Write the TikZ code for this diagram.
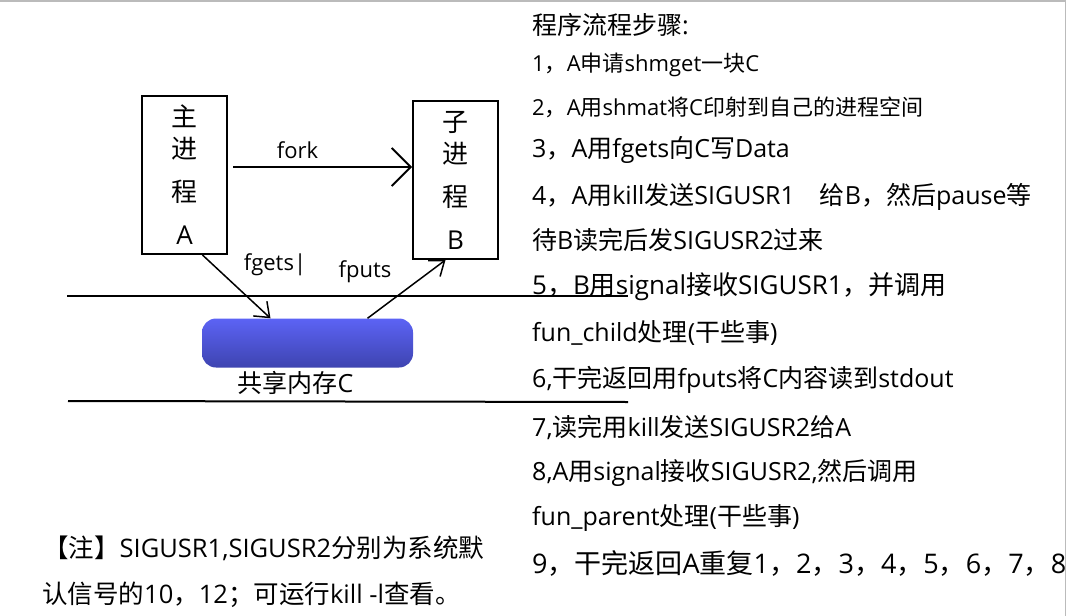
\documentclass[tikz,border=0pt]{standalone}
\usepackage{fontspec}
\setmainfont{Noto Sans CJK SC}
\newfontfamily\fuenteCJK{Noto Sans CJK SC}
\newfontfamily\fuenteLatina{Open Sans}
\usetikzlibrary{arrows.meta, positioning}
\definecolor{azulmemoria}{HTML}{5C63F5}
\definecolor{azuloscuro}{HTML}{3E44B0}
\definecolor{grisborde}{HTML}{BBBBBB}
% letras latinas en Open Sans, el resto en Noto Sans CJK
\newXeTeXintercharclass\claseLatina
\newcount\contLatina
\def\rangoLatino#1#2{\contLatina=#1\relax
  \loop\XeTeXcharclass\contLatina=\claseLatina\relax
  \ifnum\contLatina<#2\relax\advance\contLatina by 1\relax\repeat}
\rangoLatino{`A}{`Z}\rangoLatino{`a}{`z}\rangoLatino{`0}{`9}
\rangoLatino{`(}{`)}\rangoLatino{`,}{`-}\rangoLatino{`|}{`|}
\rangoLatino{`_}{`_}\rangoLatino{`:}{`:}
\contLatina=0
\loop
  \XeTeXinterchartoks\contLatina\claseLatina={\fuenteLatina}%
  \XeTeXinterchartoks\claseLatina\contLatina={\fuenteCJK}%
  \XeTeXinterchartoks 4095 \contLatina={\fuenteCJK}%
  \ifnum\contLatina<\numexpr\claseLatina-1\relax\advance\contLatina by 1\relax\repeat
\XeTeXinterchartoks 4095 \claseLatina={\fuenteLatina}
\tikzset{
  cajaProceso/.style={
    draw=black, line width=2pt, minimum width=85pt,
    align=center, inner sep=0pt, font=\fontsize{26}{43}\selectfont
  },
  cajaMemoria/.style={
    rectangle, rounded corners=14pt, minimum width=211pt, minimum height=49pt,
    top color=azulmemoria, bottom color=azuloscuro, draw=none
  },
  flecha/.style={-{Straight Barb[length=13pt,width=20pt]}, line width=1.5pt},
  flechaGrande/.style={-{Straight Barb[length=19pt,width=38pt]}, line width=1.8pt},
  lineaMemoria/.style={line width=2pt},
  etiquetaFlecha/.style={font=\fontsize{22}{26}\selectfont, inner sep=0pt},
  paso/.style={anchor=west, inner sep=0pt, font=\fontsize{25}{29}\selectfont},
  pasoChico/.style={paso, font=\fontsize{22}{26}\selectfont},
  pasoGrande/.style={paso, font=\fontsize{26}{30}\selectfont},
  nota/.style={paso, font=\fontsize{25.5}{30}\selectfont},
}
\begin{document}
\XeTeXinterchartokenstate=1
\begin{tikzpicture}[x=1pt, y=-1pt]
    \useasboundingbox (0,0) rectangle (1066,616);
    \draw[grisborde, line width=1.5pt] (0,0.75) -- (1065.25,0.75) -- (1065.25,616);
    \node[cajaProceso, minimum height=158pt] (padre) at (184.5,175) {主\\[-11pt]进\\程\\A};
    \node[cajaProceso, minimum height=158pt] (hijo) at (455.5,180) {子\\[-11pt]进\\程\\B};
    \node[cajaMemoria] (memoria) at (307.5,343) {};
    \node[etiquetaFlecha, font=\fontsize{25}{29}\selectfont, below=3pt of memoria, xshift=-12pt] (etiqueta) {共享内存C};
    \draw[lineaMemoria] (67,296) -- (628,296);
    \draw[lineaMemoria] (68,401) -- (628,402);
    \draw[flechaGrande] ([xshift=5pt,yshift=8pt]padre.east) -- ([yshift=8pt]padre.east -| hijo.west)
      node[etiquetaFlecha, pos=0.36, above=7pt] (fork) {fork};
    \draw[flecha] ([xshift=18pt]padre.south) -- ([xshift=-37pt]memoria.north);
    \draw[flecha] ([xshift=60pt]memoria.north) -- ([xshift=-10pt]hijo.south);
    \node[etiquetaFlecha] (fgets) at (275,265) {fgets|};
    \node[etiquetaFlecha] (fputs) at (365,272) {fputs};
    \node[paso] (titulo) at (532,25) {程序流程步骤:};
    \node[pasoChico] (paso1) at (532,65) {1，A申请shmget一块C};
    \node[pasoChico] (paso2) at (532,107) {2，A用shmat将C印射到自己的进程空间};
    \node[paso] (paso3) at (532,150) {3，A用fgets向C写Data};
    \node[paso] (paso4) at (532,197) {4，A用kill发送SIGUSR1\quad 给B，然后pause等};
    \node[paso] (paso4b) at (532,240) {待B读完后发SIGUSR2过来};
    \node[pasoGrande] (paso5) at (532,287) {5，B用signal接收SIGUSR1，并调用};
    \node[paso] (paso5b) at (532,333) {fun\_child处理(干些事)};
    \node[paso] (paso6) at (532,380) {6,干完返回用fputs将C内容读到stdout};
    \node[paso] (paso7) at (532,427) {7,读完用kill发送SIGUSR2给A};
    \node[paso] (paso8) at (532,473) {8,A用signal接收SIGUSR2,然后调用};
    \node[paso] (paso8b) at (532,518) {fun\_parent处理(干些事)};
    \node[paso, font=\fontsize{27}{31}\selectfont] (paso9) at (532,563) {9，干完返回A重复1，2，3，4，5，6，7，8};
    \node[nota] (nota1) at (43,548) {【注】SIGUSR1,SIGUSR2分别为系统默};
    \node[nota] (nota2) at (42,595) {认信号的10，12；可运行kill -l查看。};
  \end{tikzpicture}
\end{document}
